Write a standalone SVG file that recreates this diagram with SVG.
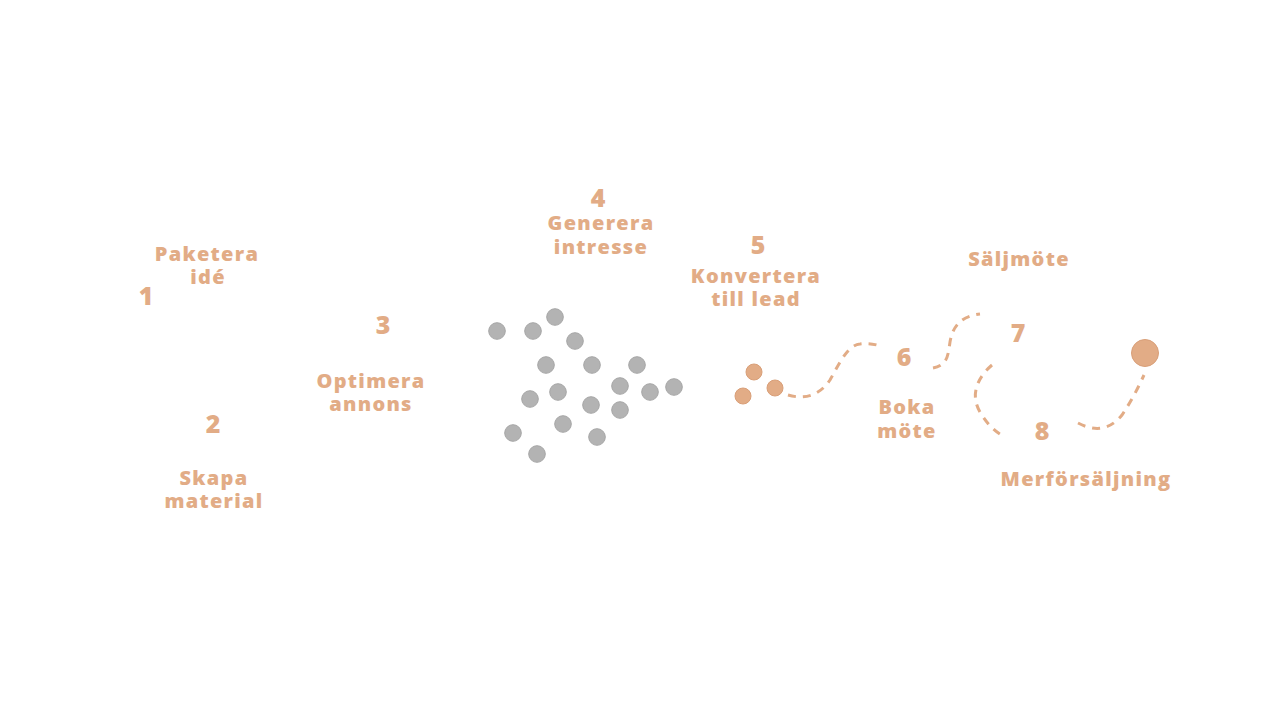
<svg xmlns="http://www.w3.org/2000/svg" width="1280" height="720" viewBox="0 0 1280 720">
<style>
.t{font-family:"Open Sans","Liberation Sans",sans-serif;font-weight:800;fill:#e2ac86;text-anchor:middle;font-size:20px;letter-spacing:1.3px}
.n{font-family:"Open Sans","Liberation Sans",sans-serif;font-weight:800;fill:#e2ac86;text-anchor:middle;font-size:25px}
.g{fill:#b3b3b3;stroke:#a6a6a6;stroke-width:1}
.o{fill:#e2ac86;stroke:#d99f78;stroke-width:1}
.d{fill:none;stroke:#e2ac86;stroke-width:3;stroke-dasharray:8 7}
</style>
<rect width="1280" height="720" fill="#ffffff"/>
<g id="step1"><text class="n" x="146" y="305">1</text><text class="t" x="207" y="261">Paketera</text><text class="t" x="208" y="284">idé</text></g>
<g id="step2"><text class="n" x="213" y="433">2</text><text class="t" x="214" y="485">Skapa</text><text class="t" x="214" y="508">material</text></g>
<g id="step3"><text class="n" x="383" y="334">3</text><text class="t" x="371" y="388">Optimera</text><text class="t" x="371" y="411">annons</text></g>
<g id="step4"><text class="n" x="598" y="207">4</text><text class="t" x="601" y="230">Generera</text><text class="t" x="601" y="254">intresse</text></g>
<g id="step5"><text class="n" x="758" y="254">5</text><text class="t" x="756" y="283">Konvertera</text><text class="t" x="756" y="306">till lead</text></g>
<g id="step6"><text class="n" x="904" y="366">6</text><text class="t" x="907" y="414">Boka</text><text class="t" x="907" y="438">möte</text></g>
<g id="step7"><text class="n" x="1018" y="342">7</text><text class="t" x="1019" y="266">Säljmöte</text></g>
<g id="step8"><text class="n" x="1042" y="440">8</text><text class="t" x="1086" y="486">Merförsäljning</text></g>
<g id="crowd">
<circle class="g" cx="497" cy="331" r="8.3"/><circle class="g" cx="533" cy="331" r="8.3"/><circle class="g" cx="555" cy="317" r="8.3"/><circle class="g" cx="575" cy="341" r="8.3"/>
<circle class="g" cx="546" cy="365" r="8.3"/><circle class="g" cx="592" cy="365" r="8.3"/><circle class="g" cx="637" cy="365" r="8.3"/><circle class="g" cx="620" cy="386" r="8.3"/>
<circle class="g" cx="650" cy="392" r="8.3"/><circle class="g" cx="674" cy="387" r="8.3"/><circle class="g" cx="558" cy="392" r="8.3"/><circle class="g" cx="530" cy="399" r="8.3"/>
<circle class="g" cx="591" cy="405" r="8.3"/><circle class="g" cx="620" cy="410" r="8.3"/><circle class="g" cx="563" cy="424" r="8.3"/><circle class="g" cx="513" cy="433" r="8.3"/>
<circle class="g" cx="597" cy="437" r="8.3"/><circle class="g" cx="537" cy="454" r="8.3"/>
</g>
<g id="leads">
<circle class="o" cx="754" cy="372" r="8"/><circle class="o" cx="775" cy="388" r="8"/><circle class="o" cx="743" cy="396" r="8"/>
</g>
<g id="customer"><circle class="o" cx="1145" cy="353" r="13.5"/></g>
<g id="connectors">
<path class="d" d="M788,395 C805,400 820,395 830,380 C840,362 848,345 860,344 C868,343 873,344 877,345"/>
<path class="d" d="M933,368 C948,365 948,355 950,342 C953,325 962,316 980,314"/>
<path class="d" d="M992,365 C977,378 970,395 980,412 C987,424 995,432 1005,437"/>
<path class="d" d="M1078,423 C1095,432 1110,430 1122,415 C1132,400 1138,388 1144,375"/>
</g>
</svg>
